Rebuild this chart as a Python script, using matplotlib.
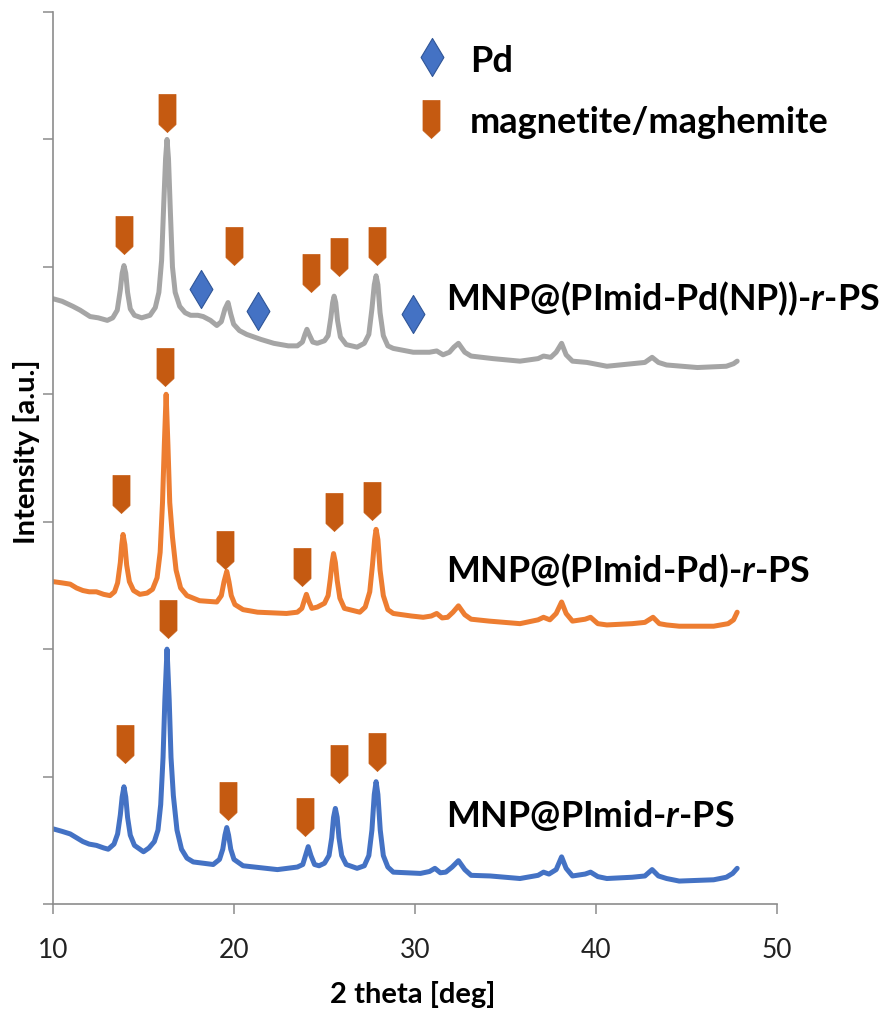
import matplotlib
matplotlib.use("Agg")
import matplotlib.pyplot as plt
from matplotlib.path import Path

plt.rcParams["mathtext.fontset"] = "custom"
plt.rcParams["mathtext.rm"] = "Lato:bold"
plt.rcParams["mathtext.it"] = "Lato:italic:bold"
plt.rcParams["mathtext.bf"] = "Lato:bold"
plt.rcParams["mathtext.bfit"] = "Lato:italic:bold"

# ---------------- data ----------------
series_names = ["MNP@(PImid-Pd(NP))-r-PS", "MNP@(PImid-Pd)-r-PS", "MNP@PImid-r-PS"]

gray_x = [10.0, 10.5, 11.1, 11.5, 12.05, 12.5, 13.0, 13.3, 13.55, 13.72,
          13.82, 13.92, 14.02, 14.12, 14.27, 14.5, 14.9, 15.36, 15.65, 15.85,
          16.0, 16.12, 16.22, 16.3, 16.38, 16.48, 16.6, 16.75, 17.0, 17.3,
          17.6, 18.0, 18.3, 18.7, 19.05, 19.3, 19.5, 19.67, 19.82, 19.98,
          20.3, 20.7, 21.5, 22.2, 23.0, 23.5, 23.78, 23.92, 24.03, 24.15,
          24.35, 24.6, 25.0, 25.2, 25.35, 25.45, 25.53, 25.62, 25.72, 25.88,
          26.2, 26.8, 27.2, 27.45, 27.62, 27.75, 27.85, 27.95, 28.07, 28.25,
          28.5, 28.8, 29.9, 30.8, 31.2, 31.55, 31.9, 32.15, 32.4, 32.75,
          33.1, 34.3, 35.8, 36.8, 37.1, 37.5, 37.8, 38.1, 38.35, 38.7,
          39.5, 40.6, 42.0, 42.7, 43.1, 43.45, 43.9, 45.6, 47.2, 47.6,
          47.8]
gray_y = [4.75, 4.73, 4.69, 4.66, 4.61, 4.60, 4.58, 4.60, 4.66, 4.82,
          4.95, 5.01, 4.95, 4.80, 4.67, 4.62, 4.60, 4.62, 4.68, 4.80,
          5.05, 5.50, 5.85, 6.00, 5.85, 5.45, 5.00, 4.80, 4.69, 4.64,
          4.62, 4.62, 4.61, 4.58, 4.54, 4.57, 4.67, 4.72, 4.63, 4.55,
          4.50, 4.47, 4.43, 4.40, 4.38, 4.38, 4.41, 4.47, 4.51, 4.47,
          4.41, 4.40, 4.42, 4.46, 4.60, 4.72, 4.77, 4.72, 4.58, 4.45,
          4.39, 4.37, 4.40, 4.47, 4.67, 4.86, 4.93, 4.86, 4.64, 4.46,
          4.38, 4.36, 4.33, 4.33, 4.34, 4.31, 4.33, 4.37, 4.40, 4.33,
          4.30, 4.28, 4.26, 4.28, 4.30, 4.29, 4.33, 4.40, 4.31, 4.26,
          4.25, 4.22, 4.24, 4.25, 4.29, 4.25, 4.23, 4.21, 4.22, 4.24,
          4.26]

orange_x = [10.0, 10.5, 10.95, 11.3, 11.65, 12.0, 12.4, 12.8, 13.15, 13.4,
            13.57, 13.72, 13.8, 13.87, 13.97, 14.07, 14.22, 14.45, 14.8, 15.2,
            15.5, 15.75, 15.92, 16.05, 16.15, 16.25, 16.35, 16.45, 16.6, 16.8,
            17.05, 17.4, 18.1, 19.05, 19.3, 19.45, 19.6, 19.72, 19.85, 20.05,
            20.5, 21.3, 22.9, 23.5, 23.75, 23.88, 24.0, 24.12, 24.3, 24.6,
            25.0, 25.2, 25.32, 25.42, 25.5, 25.6, 25.7, 25.85, 26.1, 26.95,
            27.25, 27.5, 27.65, 27.77, 27.85, 27.95, 28.07, 28.25, 28.5, 28.8,
            29.8, 30.45, 30.9, 31.2, 31.5, 31.8, 32.1, 32.4, 32.75, 33.1,
            34.1, 35.8, 36.8, 37.1, 37.45, 37.8, 38.1, 38.35, 38.7, 39.4,
            39.7, 40.1, 40.6, 42.0, 42.7, 43.15, 43.5, 43.9, 44.6, 46.5,
            47.3, 47.6, 47.8]
orange_y = [2.53, 2.52, 2.51, 2.48, 2.46, 2.45, 2.45, 2.43, 2.42, 2.45,
            2.52, 2.68, 2.82, 2.90, 2.82, 2.66, 2.53, 2.46, 2.43, 2.44,
            2.47, 2.56, 2.76, 3.15, 3.60, 4.00, 3.60, 3.15, 2.88, 2.62,
            2.48, 2.42, 2.38, 2.37, 2.42, 2.53, 2.61, 2.53, 2.42, 2.35,
            2.31, 2.29, 2.28, 2.29, 2.32, 2.38, 2.43, 2.38, 2.32, 2.33,
            2.36, 2.42, 2.55, 2.68, 2.75, 2.68, 2.54, 2.40, 2.32, 2.29,
            2.33, 2.45, 2.66, 2.86, 2.94, 2.86, 2.62, 2.42, 2.31, 2.28,
            2.26, 2.25, 2.26, 2.28, 2.245, 2.25, 2.29, 2.34, 2.27, 2.235,
            2.22, 2.20, 2.23, 2.25, 2.23, 2.28, 2.37, 2.28, 2.22, 2.235,
            2.25, 2.20, 2.19, 2.20, 2.21, 2.25, 2.20, 2.19, 2.18, 2.18,
            2.20, 2.23, 2.29]

blue_x = [10.0, 10.5, 10.95, 11.3, 11.65, 12.0, 12.4, 12.8, 13.05, 13.37,
          13.57, 13.72, 13.82, 13.92, 14.02, 14.12, 14.27, 14.5, 15.0, 15.3,
          15.6, 15.8, 15.95, 16.08, 16.18, 16.3, 16.42, 16.52, 16.65, 16.85,
          17.1, 17.4, 17.75, 18.85, 19.2, 19.38, 19.5, 19.6, 19.7, 19.82,
          20.0, 20.5, 22.4, 23.5, 23.8, 23.95, 24.1, 24.25, 24.45, 24.7,
          25.0, 25.25, 25.4, 25.5, 25.6, 25.7, 25.8, 25.95, 26.2, 26.8,
          27.2, 27.45, 27.62, 27.75, 27.85, 27.95, 28.08, 28.25, 28.5, 28.8,
          30.3, 30.8, 31.1, 31.4, 31.7, 32.05, 32.4, 32.75, 33.1, 34.15,
          35.8, 36.8, 37.1, 37.4, 37.8, 38.1, 38.35, 38.7, 39.4, 39.7,
          40.1, 40.6, 42.0, 42.7, 43.1, 43.45, 43.9, 44.6, 46.5, 47.2,
          47.55, 47.8]
blue_y = [0.59, 0.57, 0.55, 0.52, 0.49, 0.47, 0.46, 0.44, 0.43, 0.47,
          0.55, 0.70, 0.84, 0.92, 0.84, 0.68, 0.54, 0.46, 0.41, 0.44,
          0.49, 0.58, 0.78, 1.15, 1.60, 2.00, 1.60, 1.15, 0.85, 0.58,
          0.43, 0.36, 0.33, 0.31, 0.35, 0.43, 0.54, 0.60, 0.54, 0.43,
          0.35, 0.30, 0.27, 0.29, 0.31, 0.38, 0.45, 0.38, 0.31, 0.30,
          0.32, 0.38, 0.52, 0.68, 0.75, 0.68, 0.52, 0.38, 0.31, 0.28,
          0.30, 0.38, 0.58, 0.86, 0.96, 0.86, 0.58, 0.38, 0.29, 0.25,
          0.24, 0.255, 0.28, 0.245, 0.25, 0.29, 0.34, 0.27, 0.225, 0.22,
          0.20, 0.225, 0.25, 0.235, 0.27, 0.37, 0.28, 0.22, 0.235, 0.25,
          0.215, 0.20, 0.21, 0.22, 0.27, 0.22, 0.20, 0.18, 0.19, 0.21,
          0.24, 0.28]

# reflection markers (magnetite/maghemite) and Pd markers
gray_mag_x = [13.9, 16.3, 20.0, 24.25, 25.8, 27.9]
gray_mag_y = [5.25, 6.21, 5.165, 4.95, 5.08, 5.165]
gray_pd_x = [18.2, 21.3, 29.9]
gray_pd_y = [4.83, 4.655, 4.63]
orange_mag_x = [13.73, 16.2, 19.5, 23.75, 25.55, 27.6]
orange_mag_y = [3.22, 4.215, 2.78, 2.645, 3.08, 3.165]
blue_mag_x = [13.96, 16.35, 19.65, 23.9, 25.8, 27.9]
blue_mag_y = [1.256, 2.237, 0.808, 0.683, 1.10, 1.193]

legend_labels = ["Pd", "magnetite/maghemite"]
x_ticks = [10, 20, 30, 40, 50]

# ---------------- style ----------------
W, H = 886, 1012
fig = plt.figure(figsize=(W / 100, H / 100), dpi=100)
ax = fig.add_axes([53 / W, 1 - 905 / H, (777 - 53) / W, (905 - 13) / H])

FONT = "Lato"
GRAY = "#A5A5A5"
ORANGE = "#ED7D31"
BLUE = "#4472C4"
MAG = "#C55A11"
AXC = "#8C8C8C"

lw = 3.6
for xs, ys, c in [(gray_x, gray_y, GRAY), (orange_x, orange_y, ORANGE), (blue_x, blue_y, BLUE)]:
    ax.plot(xs, ys, color=c, lw=lw, solid_joinstyle="round", solid_capstyle="round", zorder=2)

pent = Path([(-0.224, 0.5), (0.224, 0.5), (0.224, -0.29), (0.0, -0.5), (-0.224, -0.29), (-0.224, 0.5)],
            [Path.MOVETO, Path.LINETO, Path.LINETO, Path.LINETO, Path.LINETO, Path.CLOSEPOLY])
diam = Path([(0, 0.5), (0.3, 0), (0, -0.5), (-0.3, 0), (0, 0.5)],
            [Path.MOVETO, Path.LINETO, Path.LINETO, Path.LINETO, Path.CLOSEPOLY])

msz = 27.4
for xs, ys in [(gray_mag_x, gray_mag_y), (orange_mag_x, orange_mag_y), (blue_mag_x, blue_mag_y)]:
    ax.plot(xs, ys, ls="none", marker=pent, markersize=msz, markerfacecolor=MAG,
            markeredgecolor=MAG, markeredgewidth=0.5, zorder=3, clip_on=False)
ax.plot(gray_pd_x, gray_pd_y, ls="none", marker=diam, markersize=msz, markerfacecolor=BLUE,
        markeredgecolor="#2F5597", markeredgewidth=0.8, zorder=3, clip_on=False)

# legend (manual)
ax.plot([30.94], [6.65], ls="none", marker=diam, markersize=msz, markerfacecolor=BLUE,
        markeredgecolor="#2F5597", markeredgewidth=0.8, clip_on=False)
ax.plot([30.88], [6.16], ls="none", marker=pent, markersize=msz, markerfacecolor=MAG,
        markeredgecolor=MAG, markeredgewidth=0.5, clip_on=False)

def ftext(px, py, s, **kw):
    fig.text(px / W, 1 - py / H, s, **kw)

ftext(470, 72, legend_labels[0], fontsize=26, fontweight="bold", family=FONT, va="baseline")
ftext(470, 133, legend_labels[1], fontsize=26, fontweight="bold", family=FONT, va="baseline")

lab_style = dict(fontsize=25.8, fontweight="bold", family=FONT, va="baseline")
ftext(446, 310, r"MNP@(PImid-Pd(NP))-$\boldsymbol{r}$-PS", **lab_style)
ftext(446, 582, r"MNP@(PImid-Pd)-$\boldsymbol{r}$-PS", **lab_style)
ftext(446, 827, r"MNP@PImid-$\boldsymbol{r}$-PS", **lab_style)

# axes
ax.set_xlim(10, 50)
ax.set_ylim(0, 7)
ax.set_xticks(x_ticks)
ax.set_xticklabels([str(t) for t in x_ticks], fontsize=19, family=FONT, color="#222222")
ax.set_yticks(range(0, 8))
ax.set_yticklabels([])
for side in ["top", "right"]:
    ax.spines[side].set_visible(False)
for side in ["left", "bottom"]:
    ax.spines[side].set_color(AXC)
    ax.spines[side].set_linewidth(1.2)
ax.tick_params(axis="both", direction="out", length=7, width=1.1, color=AXC)
ax.tick_params(axis="x", pad=17)

ftext(413, 1003, "2 theta [deg]", fontsize=21, fontweight="bold", family=FONT,
      ha="center", va="baseline")
ftext(27, 452, "Intensity [a.u.]", fontsize=21, fontweight="bold", family=FONT,
      rotation=90, ha="center", va="center")

fig.savefig("out.png", dpi=100)
